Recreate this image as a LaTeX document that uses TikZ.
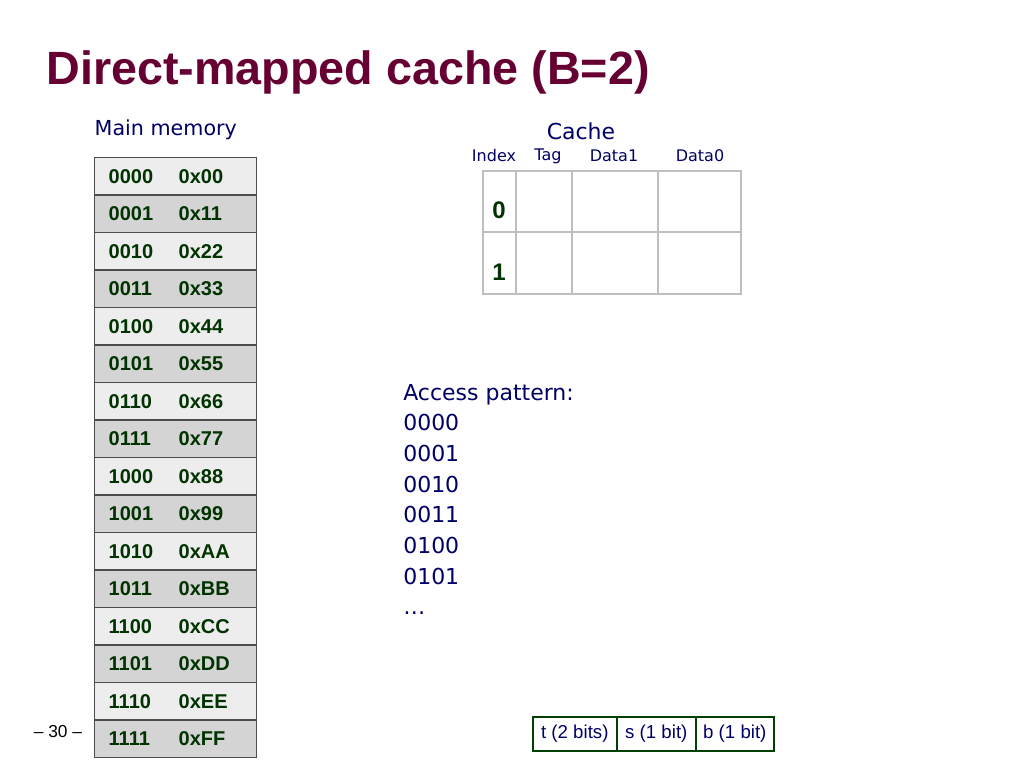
\documentclass[tikz,border=0pt]{standalone}
\usepackage{fontspec}
\setmainfont{Liberation Sans}
\newfontfamily\uif{DejaVu Sans}
\begin{document}
\begin{tikzpicture}[x=0.75pt,y=-0.75pt,
  mem/.style={draw=black!70,line width=1pt,minimum width=121.5pt,minimum height=28.1pt,inner sep=0pt,anchor=north west},
  memtxt/.style={text=green!20!black,font=\fontsize{15}{17}\selectfont\bfseries,anchor=west},
  navy/.style={text=blue!40!black},
  bit/.style={draw=green!25!black,line width=1.2pt,minimum height=25.5pt,inner sep=0pt,anchor=north west,text=blue!40!black,font=\fontsize{14}{16}\selectfont}]
\useasboundingbox[fill=white] (0,0) rectangle (1024,768);
\node[anchor=west,text={rgb,255:red,102;green,0;blue,51},font=\fontsize{35}{40}\selectfont\bfseries] (title) at (42,72) {Direct-mapped cache (B=2)};
\node[anchor=west,navy,font=\uif\fontsize{15.5}{18}\selectfont] (mm) at (90,130) {Main memory};
\node[navy,font=\uif\fontsize{16.5}{19}\selectfont] (cache) at (581,131) {Cache};
\foreach \lab/\x in {Index/494,Tag/548,Data1/614,Data0/700}
  \node[navy,font=\uif\fontsize{12}{14}\selectfont] (h\lab) at (\x,156) {\lab};
% memory
\foreach \a/\v [count=\i from 0] in {0000/00,0001/11,0010/22,0011/33,0100/44,0101/55,0110/66,0111/77,1000/88,1001/99,1010/AA,1011/BB,1100/CC,1101/DD,1110/EE,1111/FF}{
  \pgfmathsetmacro\yy{157+37.5*\i}
  \pgfmathparse{mod(\i,2)==0?"black!7":"black!17"}\edef\fc{\pgfmathresult}
  \node[mem,fill=\fc] (m\i) at (94,\yy) {};
  \node[memtxt] (ma\i) at ([xshift=7.5pt]m\i.west) {\a};
  \node[memtxt] (mv\i) at ([xshift=60pt]m\i.west) {0x\v};
}
% cache grid
\draw[black!25,line width=0.8pt] (483,171) rectangle (741,294);
\draw[black!25,line width=0.8pt] (483,232) -- (741,232);
\foreach \x in {516,572,658} \draw[black!25,line width=0.8pt] (\x,171) -- (\x,294);
\node[memtxt,anchor=center,font=\fontsize{18}{20}\selectfont\bfseries] (c0) at (499,210) {0};
\node[memtxt,anchor=center,font=\fontsize{18}{20}\selectfont\bfseries] (c1) at (499,272) {1};
% access pattern
\node[anchor=north west,navy,font=\uif\fontsize{16.5}{23}\selectfont,align=left,inner sep=0pt] (ap) at (403,384)
 {Access pattern:\\0000\\0001\\0010\\0011\\0100\\0101\\\ldots};
% address bits
\node[bit,minimum width=63pt] (t) at (532,716) {t (2 bits)};
\node[bit,minimum width=59.25pt] (s) at (616,716) {s (1 bit)};
\node[bit,minimum width=58.5pt] (b) at (695,716) {b (1 bit)};
\node[font=\fontsize{13}{15}\selectfont] (pg) at (58,732) {-- 30 --};
\end{tikzpicture}
\end{document}
